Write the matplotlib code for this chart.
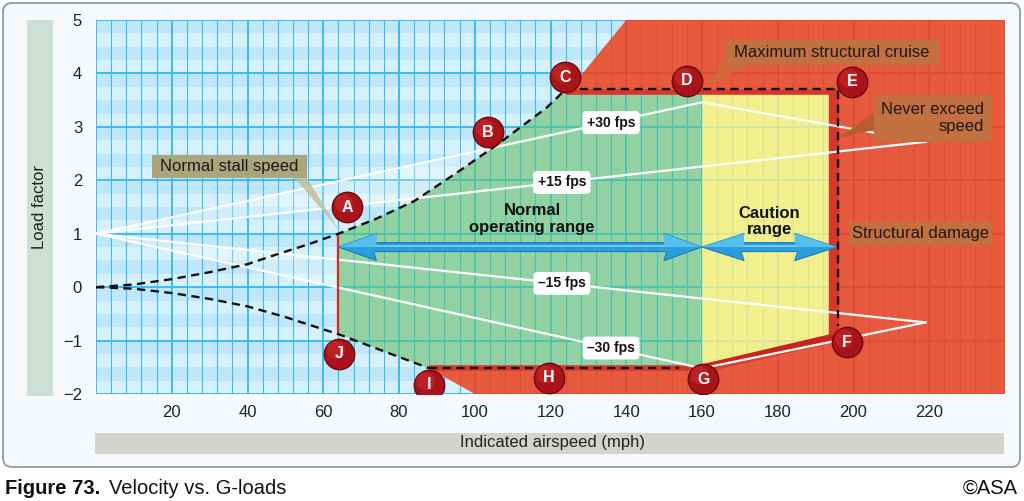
import matplotlib
matplotlib.use("Agg")
import matplotlib.pyplot as plt
import numpy as np
from matplotlib.patches import Polygon, Rectangle, FancyBboxPatch
from matplotlib.collections import LineCollection

plt.rcParams['font.family'] = ['Liberation Sans', 'DejaVu Sans']

# ---------------- data ----------------
x_ticks = [20, 40, 60, 80, 100, 120, 140, 160, 180, 200, 220]
y_ticks = [-2, -1, 0, 1, 2, 3, 4, 5]

# positive stall curve
stall_pos_v = [0, 10, 20, 30, 40, 48, 56, 64, 74, 84, 95, 106, 119, 124]
stall_pos_n = [0, 0.05, 0.15, 0.28, 0.43, 0.62, 0.8, 1.0, 1.28, 1.61, 2.13, 2.67, 3.36, 3.7]
# negative stall curve
stall_neg_v = [0, 10, 20, 30, 40, 50, 60, 64, 88]
stall_neg_n = [0, -0.03, -0.11, -0.22, -0.36, -0.56, -0.79, -0.88, -1.52]

pos_limit = 3.7
neg_limit = -1.52
v_stall = 64
v_corner = 124
v_no = 160
v_caution_end = 193.5
v_ne = 196
n_f = -0.93
v_dash_end_n = -0.72

# gust lines
gust_p30_v = [0, 160, 219]
gust_p30_n = [1, 3.46, 2.72]
gust_p15_v = [0, 219]
gust_p15_n = [1, 2.72]
gust_m15_v = [0, 219]
gust_m15_n = [1, -0.66]
gust_m30_v = [0, 160, 219]
gust_m30_n = [1, -1.52, -0.66]

gust_labels = ["+30 fps", "+15 fps", "\u201315 fps", "\u201330 fps"]
gust_label_v = [136, 123, 123, 136]
gust_label_n = [3.08, 1.96, 0.07, -1.14]

point_names = ["A", "B", "C", "D", "E", "F", "G", "H", "I", "J"]
point_v = [66.3, 103.5, 123.8, 156.0, 199.6, 198.3, 160.3, 119.6, 87.9, 64.2]
point_n = [1.50, 2.90, 3.93, 3.86, 3.84, -1.03, -1.72, -1.70, -1.83, -1.25]

# ---------------- figure ----------------
W, H = 1024, 501
fig = plt.figure(figsize=(W / 100, H / 100), dpi=100)
fig.patch.set_facecolor('white')
T = fig.dpi_scale_trans


def px(x, y):
    return (x / 100.0, (H - y) / 100.0)


# panel
panel = FancyBboxPatch(px(3, 467), 10.17, 4.64, boxstyle='round,pad=0,rounding_size=0.09',
                       transform=T, fc='#f5f9fc', ec='#8e9ca6', lw=1.3, zorder=-3)
fig.patches.append(panel)
# y label bar
fig.patches.append(Rectangle(px(27, 396), 0.26, 3.76, transform=T, fc='#cde0d5', ec='none', zorder=-2))
# x label bar
fig.patches.append(Rectangle(px(95, 454), 9.09, 0.21, transform=T, fc='#d4d3ce', ec='none', zorder=-2))

fig.text(*px(40, 207), "Load factor", transform=T, rotation=90, ha='center', va='center',
         fontsize=12, color='#222222')
fig.text(*px(552, 443), "Indicated airspeed (mph)", transform=T, ha='center', va='center',
         fontsize=12, color='#222222')
fig.text(*px(5, 488), "Figure 73.", transform=T, ha='left', va='center', fontsize=14.5,
         fontweight='bold', color='#111111')
fig.text(*px(109, 488), "Velocity vs. G-loads", transform=T, ha='left', va='center', fontsize=14.5,
         color='#111111')
fig.text(*px(1018, 488), "\u00a9ASA", transform=T, ha='right', va='center', fontsize=14.5,
         color='#111111')

ax = fig.add_axes([96 / W, 107 / H, 909 / W, 374 / H])
ax.set_zorder(1)
ax.set_xlim(0, 240)
ax.set_ylim(-2, 5)
for s in ax.spines.values():
    s.set_visible(False)
ax.set_xticks(x_ticks)
ax.set_yticks(y_ticks)
ax.set_yticklabels([("\u2212%d" % -t) if t < 0 else str(t) for t in y_ticks])
ax.tick_params(length=0, labelsize=12, labelcolor='#222222')
ax.tick_params(axis='y', pad=10)
ax.tick_params(axis='x', pad=8)
ax.set_facecolor('#d6f1fc')

sx = 909 / 240.0
sy = 374 / 7.0

# horizontal bands
for k in range(28):
    top = 5 - 0.25 * k
    if k % 2 == 0:
        ax.axhspan(top - 0.25, top, color='#c0e7f9', lw=0, zorder=0.5)

# grid segments
minor_segs, major_segs = [], []
for v in range(0, 241, 4):
    (major_segs if v % 20 == 0 else minor_segs).append([(v, -2), (v, 5)])
for n in range(-2, 6):
    major_segs.append([(0, n), (240, n)])


def add_grid(color, clip=None, z=1, lw_minor=0.8, lw_major=1.4):
    for segs, lw in ((minor_segs, lw_minor), (major_segs, lw_major)):
        lc = LineCollection(segs, colors=color, linewidths=lw, zorder=z)
        ax.add_collection(lc)
        if clip is not None:
            lc.set_clip_path(clip)


add_grid('#3dbbef', None, 1)

# haze between gust lines (visible over the blue area)
ax.add_patch(Polygon(list(zip(gust_p30_v, gust_p30_n)), closed=True, fc='white', alpha=0.28,
                     ec='none', zorder=1.5))
ax.add_patch(Polygon(list(zip(gust_m30_v, gust_m30_n)), closed=True, fc='white', alpha=0.28,
                     ec='none', zorder=1.5))

# red region
red_poly = Polygon([(v_corner + 1, pos_limit), (140, 5), (240, 5), (240, -2), (100, -2), (88, neg_limit)],
                   closed=True, fc='#e85a3e', ec='none', zorder=2)
ax.add_patch(red_poly)
add_grid('#da4e3a', red_poly, 2.1)

# green region
green_pts = [(v_stall, stall_neg_n[7])] + [(v, n) for v, n in zip(stall_pos_v, stall_pos_n) if v >= v_stall]
green_pts += [(v_no, pos_limit), (v_no, neg_limit), (88, neg_limit)]
green_poly = Polygon(green_pts, closed=True, fc='#92d2a2', ec='none', zorder=2.2)
ax.add_patch(green_poly)
add_grid('#48c2ae', green_poly, 2.3, 0.8, 1.3)

# yellow region
yellow_poly = Polygon([(v_no, pos_limit), (v_ne, pos_limit), (v_ne, n_f), (v_no, neg_limit)],
                      closed=True, fc='#f3ef8c', ec='none', zorder=2.2)
ax.add_patch(yellow_poly)
add_grid('#d0e69e', yellow_poly, 2.3, 0.8, 1.3)

# dark red boundary bands
band = '#d5372a'
ax.plot([v_corner, v_ne], [pos_limit - 0.045, pos_limit - 0.045], color=band, lw=4, zorder=2.5,
        solid_capstyle='butt')
ax.plot([(v_caution_end + v_ne) / 2] * 2, [pos_limit, n_f - 0.02], color=band, lw=7.5, zorder=2.5,
        solid_capstyle='butt')
ax.plot([v_no - 1, v_caution_end + 1], [neg_limit - 0.03, n_f - 0.03], color='#b01818', lw=6,
        alpha=0.35, zorder=2.55, solid_capstyle='butt')
ax.plot([v_no - 1, v_caution_end + 1], [neg_limit, n_f], color='#c8241e', lw=4.5, zorder=2.6,
        solid_capstyle='butt')
ax.plot([88, v_no], [neg_limit, neg_limit], color=band, lw=4, zorder=2.5, solid_capstyle='butt')

# gust lines
for vv, nn in ((gust_p30_v, gust_p30_n), (gust_p15_v, gust_p15_n),
               (gust_m15_v, gust_m15_n), (gust_m30_v, gust_m30_n)):
    ax.plot(vv, nn, color='white', lw=1.6, zorder=3, solid_joinstyle='miter')

# stall line at 64 mph
ax.plot([v_stall, v_stall], [stall_neg_n[7], 1.0], color='#e3231d', lw=1.6, zorder=3.1)

# dashed envelope
dash = dict(color='#111111', lw=1.7, ls=(0, (3.5, 2.3)), zorder=3.5)
ax.plot(stall_pos_v, stall_pos_n, **dash)
ax.plot([v_corner, v_ne, v_ne], [pos_limit, pos_limit, v_dash_end_n], **dash)
ax.plot(stall_neg_v, stall_neg_n, **dash)
ax.plot([88, v_no - 6], [neg_limit, neg_limit], **dash)


# arrows
def double_arrow(x0, x1, y, hl_px, hw_px, sw_px):
    hl = hl_px / sx
    hw = hw_px / 2 / sy
    sw = sw_px / 2 / sy
    verts = [(x0, y), (x0 + hl, y + hw), (x0 + hl * 0.93, y + sw), (x1 - hl * 0.93, y + sw),
             (x1 - hl, y + hw), (x1, y), (x1 - hl, y - hw), (x1 - hl * 0.93, y - sw),
             (x0 + hl * 0.93, y - sw), (x0 + hl, y - hw)]
    ax.add_patch(Polygon(verts, closed=True, fc='#2b9ddb', ec='#1a7ec0', lw=0.8, zorder=4))
    ax.plot([x0 + hl, x1 - hl], [y + sw * 0.2, y + sw * 0.2], color='#7fd3f5', lw=1.2, zorder=4.1)
    ax.add_patch(Polygon([(x0, y), (x0 + hl, y + hw), (x0 + hl, y)], closed=True,
                         fc='#55bfee', ec='none', zorder=4.05))
    ax.add_patch(Polygon([(x1, y), (x1 - hl, y + hw), (x1 - hl, y)], closed=True,
                         fc='#55bfee', ec='none', zorder=4.05))


arrow_y = 0.75
double_arrow(v_stall, v_no, arrow_y, 38, 27, 9)
double_arrow(v_no, v_ne - 0.4, arrow_y, 42, 27, 9)

ax.text(115.1, 1.27, "Normal\noperating range", ha='center', va='center', fontsize=12,
        fontweight='bold', color='#111111', linespacing=1.15, zorder=5)
ax.text(177.7, 1.23, "Caution\nrange", ha='center', va='center', fontsize=12,
        fontweight='bold', color='#111111', linespacing=1.15, zorder=5)

# gust labels
for lab, v, n in zip(gust_labels, gust_label_v, gust_label_n):
    ax.text(v, n, lab, ha='center', va='center', fontsize=10, fontweight='bold', color='#111111',
            zorder=6, bbox=dict(boxstyle='round,pad=0.32,rounding_size=0.3', fc='white', ec='none'))

# annotation boxes
box_blue = '#aba57d'
box_red = '#c2703f'
ax.add_patch(Polygon([(52.5, 2.043), (55.7, 2.043), (64.2, 1.07)], closed=True, fc='#c2bf9a',
                     ec='none', alpha=0.85, zorder=5))
ax.add_patch(Rectangle((14.8, 2.043), 40.9, 0.43, fc=box_blue, ec='none', zorder=5.1))
ax.text(35.2, 2.258, "Normal stall speed", ha='center', va='center', fontsize=12, color='#1a1a1a',
        zorder=5.2)

ax.add_patch(Polygon([(166.3, 4.29), (171.3, 4.158), (161.0, 3.727)], closed=True, fc='#d06a38',
                     ec='none', zorder=5))
ax.add_patch(Rectangle((166.3, 4.158), 56.3, 0.468, fc=box_red, ec='none', zorder=5.1))
ax.text(194.3, 4.39, "Maximum structural cruise", ha='center', va='center', fontsize=12,
        color='#1a1a1a', zorder=5.2)

ax.add_patch(Polygon([(205.4, 3.26), (205.4, 2.94), (195.9, 2.79)], closed=True, fc='#b95c32',
                     ec='none', zorder=5))
ax.add_patch(Rectangle((205.4, 2.717), 31.2, 0.879, fc=box_red, ec='none', zorder=5.1))
ax.text(234.4, 3.166, "Never exceed\nspeed", ha='right', va='center', fontsize=12,
        color='#1a1a1a', multialignment='right', linespacing=1.2, zorder=5.2)

ax.add_patch(Rectangle((198.8, 0.77), 37.8, 0.449, fc=box_red, ec='none', zorder=5.1))
ax.text(217.6, 0.995, "Structural damage", ha='center', va='center', fontsize=12,
        color='#1a1a1a', zorder=5.2)

# point markers
ax.scatter(point_v, point_n, s=480, c='#a9141a', edgecolors='#6e0b0e', linewidths=1.0, zorder=7)
ax.scatter(np.array(point_v) - 0.9, np.array(point_n) + 0.07, s=170, c='#cc2a2c', edgecolors='none',
           alpha=0.6, zorder=7.1)
for name, v, n in zip(point_names, point_v, point_n):
    ax.text(v, n, name, ha='center', va='center', fontsize=11.5, fontweight='bold', color='white',
            zorder=8)

fig.savefig('out.png', dpi=100)
